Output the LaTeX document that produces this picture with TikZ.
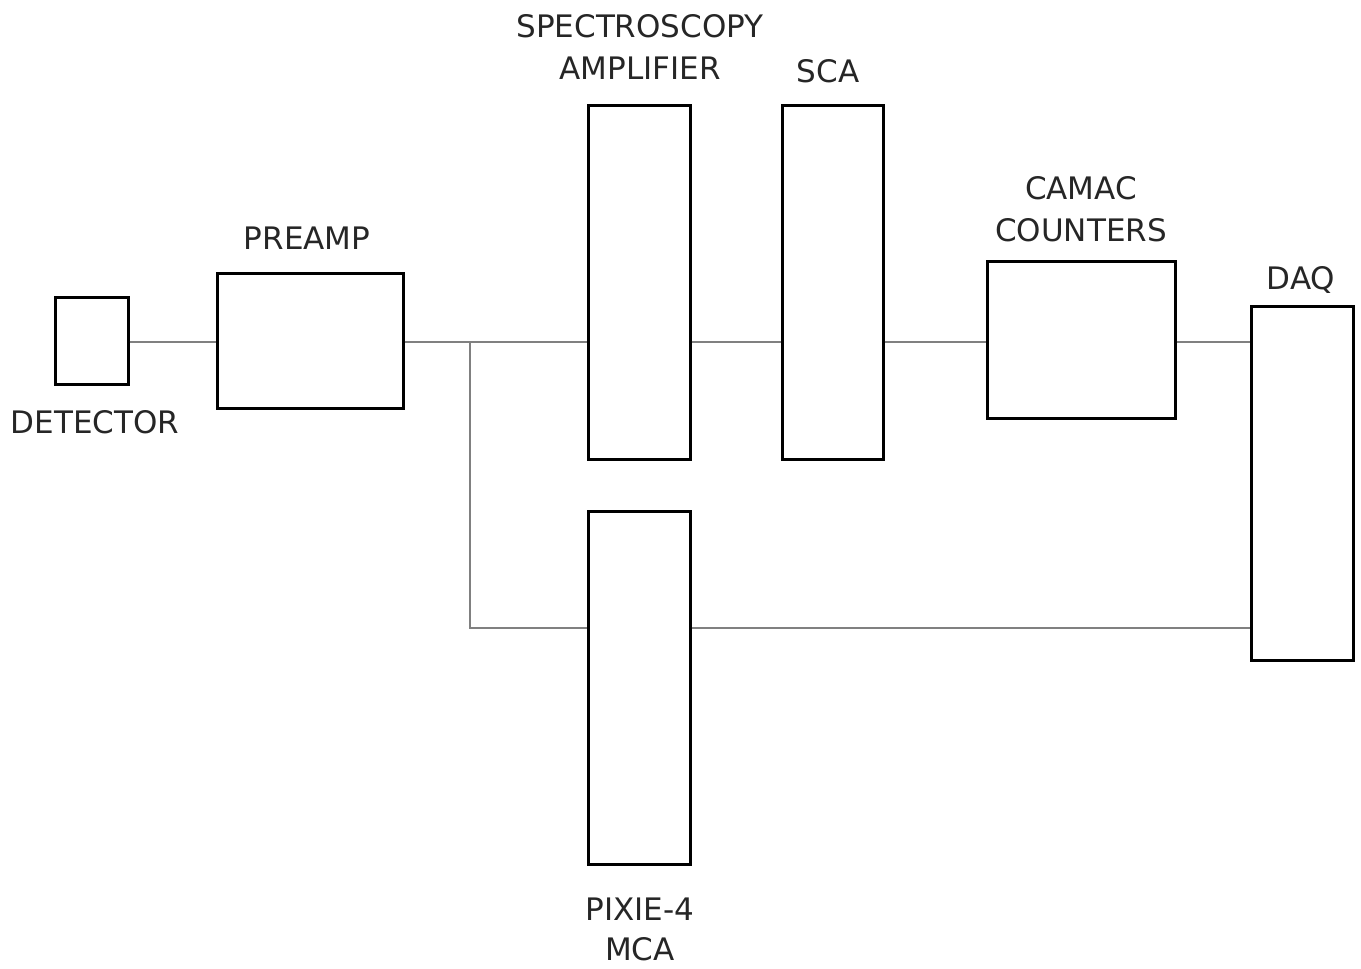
\documentclass[tikz,border=0pt]{standalone}
\usepackage{fontspec}
\setmainfont{DejaVu Sans}
\begin{document}
\begin{tikzpicture}[x=0.5pt,y=-0.5pt,
  blk/.style={draw=black,line width=1.5pt,fill=white,inner sep=0pt,rectangle},
  lbl/.style={anchor=base,inner sep=0pt,font=\fontsize{15.5}{19}\selectfont,text=black!85},
  wire/.style={draw=black!50,line width=1pt}]
\useasboundingbox (0,0) rectangle (1361,969);
% blocks
\node[blk,minimum width=36.5pt,minimum height=43.5pt] (det) at (91.5,340.5) {};
\node[blk,minimum width=93pt,minimum height=67.5pt] (pre) at (310,340.5) {};
\node[blk,minimum width=51pt,minimum height=177pt] (amp) at (639,282) {};
\node[blk,minimum width=50.5pt,minimum height=177pt] (sca) at (832.5,282) {};
\node[blk,minimum width=94pt,minimum height=78.5pt] (cam) at (1081,339.5) {};
\node[blk,minimum width=51pt,minimum height=177pt] (daq) at (1302,483) {};
\node[blk,minimum width=51pt,minimum height=176.5pt] (pix) at (639,687.5) {};
% helper coordinates
\coordinate (bus) at (0,342);
\coordinate (low) at (0,628);
\coordinate (br) at (470,342);
% wires
\draw[wire] (det.east |- bus) -- (pre.west |- bus);
\draw[wire] (pre.east |- bus) -- (amp.west |- bus);
\draw[wire] (amp.east |- bus) -- (sca.west |- bus);
\draw[wire] (sca.east |- bus) -- (cam.west |- bus);
\draw[wire] (cam.east |- bus) -- (daq.west |- bus);
\draw[wire] (br) |- (pix.west |- low);
\draw[wire] (pix.east |- low) -- (daq.west |- low);
% labels
\node[lbl] (tdet) at (95,433) {DETECTOR};
\node[lbl] (tpre) at (307,249) {PREAMP};
\node[lbl] (tamp1) at (640,37) {SPECTROSCOPY};
\node[lbl] (tamp2) at (640,79) {AMPLIFIER};
\node[lbl] (tsca) at (828,83) {SCA};
\node[lbl] (tcam1) at (1081,199) {CAMAC};
\node[lbl] (tcam2) at (1081,241) {COUNTERS};
\node[lbl] (tdaq) at (1301,289) {DAQ};
\node[lbl] (tpix1) at (640,920) {PIXIE-4};
\node[lbl] (tpix2) at (640,960) {MCA};
\end{tikzpicture}
\end{document}
